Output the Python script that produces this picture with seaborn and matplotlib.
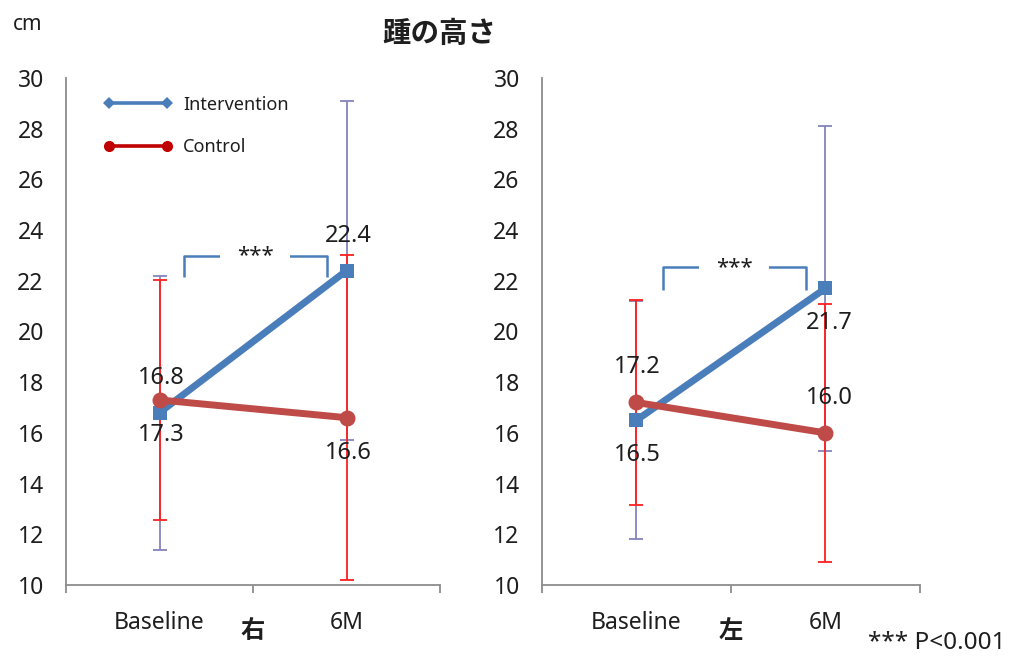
import matplotlib
matplotlib.use("Agg")
import matplotlib.pyplot as plt
from matplotlib.lines import Line2D
import pandas as pd
import seaborn as sns

# ---- data -------------------------------------------------------------
timepoints = ["Baseline", "6M"]
groups = ["Intervention", "Control"]
side_names = ["右", "左"]

# heel height, mean (cm)
right_intervention = [16.8, 22.4]
right_control = [17.3, 16.6]
left_intervention = [16.5, 21.7]
left_control = [17.2, 16.0]

# heel height, standard deviation (cm)
right_intervention_sd = [5.4, 6.7]
right_control_sd = [4.75, 6.4]
left_intervention_sd = [4.7, 6.4]
left_control_sd = [4.05, 5.1]

y_ticks = list(range(10, 31, 2))

# ---- style ------------------------------------------------------------
sns.set_theme(style="white")
plt.rcParams["font.family"] = ["Noto Sans", "Noto Sans CJK JP"]
plt.rcParams["text.color"] = "#1e1e1e"

BLUE = "#4a7ebb"
RED = "#be4b48"
BLUE_ERR = "#8484be"
RED_ERR = "#ff2020"
AXIS_GRAY = "#8c8c8c"
TEXT = "#1e1e1e"

fig = plt.figure(figsize=(10.13, 6.57), dpi=100)
ax_r = fig.add_axes([0.0652, 0.1096, 0.3692, 0.7717])
ax_l = fig.add_axes([0.5350, 0.1096, 0.3731, 0.7717])

panels = [
    dict(ax=ax_r, name=side_names[0],
         iv=right_intervention, iv_sd=right_intervention_sd,
         ct=right_control, ct_sd=right_control_sd,
         iv_dir=[1, 1], ct_dir=[-1, -1], dx=[2, 2],
         bracket=(0.13, 0.895, 22.98, 22.15)),
    dict(ax=ax_l, name=side_names[1],
         iv=left_intervention, iv_sd=left_intervention_sd,
         ct=left_control, ct_sd=left_control_sd,
         iv_dir=[-1, -1], ct_dir=[1, 1], dx=[1, 4],
         bracket=(0.14, 0.897, 22.54, 21.64)),
]

pos = list(range(len(timepoints)))

for p in panels:
    ax = p["ax"]
    df = pd.DataFrame({
        "pos": pos * 2,
        "value": p["iv"] + p["ct"],
        "group": [groups[0]] * 2 + [groups[1]] * 2,
    })

    # error bars (drawn beneath the lines)
    ax.errorbar(pos, p["iv"], yerr=p["iv_sd"], fmt="none", ecolor=BLUE_ERR,
                elinewidth=1.3, capsize=5, capthick=1.3, zorder=2)
    ax.errorbar(pos, p["ct"], yerr=p["ct_sd"], fmt="none", ecolor=RED_ERR,
                elinewidth=1.3, capsize=5, capthick=1.3, zorder=2.1)

    sns.lineplot(data=df[df.group == groups[0]], x="pos", y="value", ax=ax,
                 color=BLUE, linewidth=5, marker="s", markersize=10,
                 markeredgewidth=0, legend=False, zorder=3)
    sns.lineplot(data=df[df.group == groups[1]], x="pos", y="value", ax=ax,
                 color=RED, linewidth=5, marker="o", markersize=11.5,
                 markeredgewidth=0, legend=False, zorder=4)

    # value labels
    for i in pos:
        for vals, dirs in ((p["iv"], p["iv_dir"]), (p["ct"], p["ct_dir"])):
            ax.annotate(f"{vals[i]:.1f}", (i, vals[i]),
                        xytext=(p["dx"][i], 35 * dirs[i]),
                        textcoords="offset pixels", ha="center", va="center",
                        fontsize=17, color=TEXT, zorder=6)

    # significance bracket
    x0, x1, ytop, ybot = p["bracket"]
    ax.plot([x0, x0, x1, x1], [ybot, ytop, ytop, ybot], color=BLUE,
            linewidth=1.8, solid_capstyle="butt", zorder=5)
    ax.text((x0 + x1) / 2, ytop, "***", ha="center", va="center",
            fontsize=16, color=TEXT, zorder=6,
            bbox=dict(boxstyle="square,pad=0.75", fc="white", ec="none"))

    # axes
    ax.set_xlim(-0.5, 1.5)
    ax.set_ylim(10, 30)
    ax.set_yticks(y_ticks)
    ax.set_xticks(pos)
    ax.set_xticklabels(timepoints)
    ax.set_xticks([-0.5, 0.5, 1.5], minor=True)
    ax.set_xlabel("")
    ax.set_ylabel("")
    for s in ("top", "right"):
        ax.spines[s].set_visible(False)
    for s in ("left", "bottom"):
        ax.spines[s].set_color(AXIS_GRAY)
        ax.spines[s].set_linewidth(1.3)
    ax.tick_params(axis="y", length=0, pad=16, labelsize=16.5, labelcolor=TEXT)
    ax.tick_params(axis="x", which="major", length=0, pad=19, labelsize=16.5,
                   labelcolor=TEXT)
    ax.tick_params(axis="x", which="minor", length=6, width=1.3,
                   color=AXIS_GRAY, direction="out", bottom=True)
    ax.text(0.5, -0.093, p["name"], transform=ax.transAxes, ha="center",
            va="center", fontsize=17.5, fontweight="bold", color=TEXT)

# legend
handles = [
    Line2D([0], [0], color="#4a7ebb", linewidth=2.6, marker="D",
           markersize=6, markeredgewidth=0),
    Line2D([0], [0], color="#c00000", linewidth=2.6, marker="o",
           markersize=8, markeredgewidth=0),
]
ax_r.legend(handles, groups, loc="upper left", bbox_to_anchor=(0.1, 0.965),
            frameon=False, numpoints=2, handlelength=3.8, handletextpad=0.6,
            labelspacing=1.35, fontsize=13, borderpad=0, borderaxespad=0)

fig.text(0.434, 0.947, "踵の高さ", ha="center", va="center", fontsize=20.5,
         fontweight="bold", color=TEXT)
fig.text(0.027, 0.962, "cm", ha="center", va="center", fontsize=15,
         color=TEXT)
fig.text(0.925, 0.021, "*** P<0.001", ha="center", va="center",
         fontsize=17.5, color=TEXT)

fig.savefig("out.png", dpi=100, facecolor="white")
